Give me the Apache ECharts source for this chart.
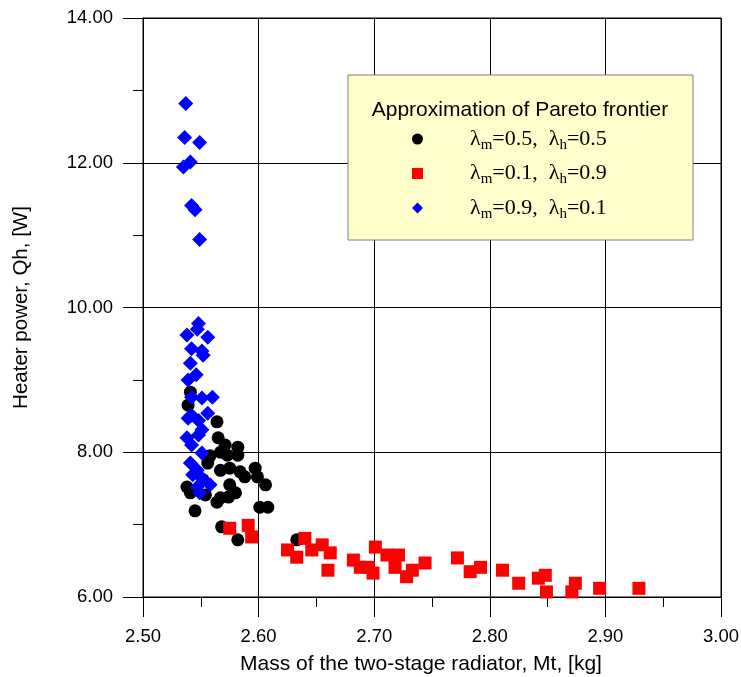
<!DOCTYPE html>
<html>
<head>
<meta charset="utf-8">
<script src="https://cdn.jsdelivr.net/npm/echarts@6/dist/echarts.min.js"></script>
<style>
    html, body { margin: 0; padding: 0; background: #fff; }
    #main { width: 741px; height: 677px; }
</style>
</head>
<body>
<div id="main"></div>
<script>
// tick labels
var xTicks = ['2.50', '2.60', '2.70', '2.80', '2.90', '3.00'];
var yTicks = ['6.00', '8.00', '10.00', '12.00', '14.00'];

// series names (rich text, subscripts m / h)
var seriesNames = ['l05', 'l01', 'l09'];
var seriesLabels = [['0.5', '0.5'], ['0.1', '0.9'], ['0.9', '0.1']];

// lambda_m=0.5, lambda_h=0.5  (mass, heater power)
var pointsBalanced = [
    [2.541, 8.83], [2.539, 8.65], [2.564, 8.42], [2.565, 8.20], [2.571, 8.10], [2.582, 8.07],
    [2.573, 7.96], [2.582, 7.96], [2.567, 8.00], [2.556, 7.85], [2.567, 7.75], [2.575, 7.78],
    [2.584, 7.73], [2.588, 7.66], [2.597, 7.78], [2.599, 7.66], [2.606, 7.55], [2.575, 7.55],
    [2.538, 7.52], [2.541, 7.44], [2.554, 7.41], [2.580, 7.44], [2.567, 7.37], [2.564, 7.31],
    [2.574, 7.38], [2.601, 7.24], [2.608, 7.24], [2.545, 7.19], [2.568, 6.97], [2.582, 6.79],
    [2.633, 6.79], [2.552, 7.62], [2.558, 7.95]
];
// lambda_m=0.1, lambda_h=0.9
var pointsPower = [
    [2.575, 6.95], [2.591, 6.99], [2.594, 6.83], [2.625, 6.65], [2.633, 6.55], [2.640, 6.81],
    [2.646, 6.65], [2.655, 6.72], [2.662, 6.61], [2.660, 6.37], [2.682, 6.51], [2.688, 6.41],
    [2.701, 6.69], [2.695, 6.41], [2.699, 6.33], [2.711, 6.58], [2.721, 6.58], [2.718, 6.41],
    [2.728, 6.28], [2.733, 6.37], [2.744, 6.47], [2.772, 6.54], [2.783, 6.35], [2.792, 6.41],
    [2.811, 6.37], [2.825, 6.19], [2.842, 6.26], [2.848, 6.30], [2.849, 6.07], [2.871, 6.07],
    [2.874, 6.19], [2.895, 6.12], [2.929, 6.12]
];
// lambda_m=0.9, lambda_h=0.1
var pointsMass = [
    [2.537, 12.82], [2.536, 12.35], [2.549, 12.28], [2.541, 12.01], [2.535, 11.94], [2.542, 11.41],
    [2.545, 11.35], [2.549, 10.94], [2.548, 9.78], [2.547, 9.70], [2.538, 9.62], [2.556, 9.59],
    [2.542, 9.43], [2.551, 9.40], [2.552, 9.34], [2.541, 9.23], [2.546, 9.07], [2.539, 9.00],
    [2.542, 8.76], [2.551, 8.75], [2.560, 8.76], [2.556, 8.54], [2.542, 8.51], [2.539, 8.47],
    [2.548, 8.44], [2.551, 8.31], [2.548, 8.24], [2.538, 8.20], [2.542, 8.10], [2.551, 7.99],
    [2.541, 7.85], [2.547, 7.75], [2.543, 7.69], [2.551, 7.64], [2.558, 7.55], [2.547, 7.52],
    [2.549, 7.44]
];

var sans = 'Liberation Sans, Arial, sans-serif';
var serif = 'Liberation Serif, Times New Roman, serif';

var chart = echarts.init(document.getElementById('main'));

var option = {
    backgroundColor: '#fff',
    animation: false,
    grid: {
        left: 143, right: 20, top: 18, bottom: 80,
        outerBoundsMode: 'none',
        show: true, borderColor: '#000', borderWidth: 1
    },
    xAxis: {
        type: 'value',
        min: 2.5, max: 3.0, interval: 0.1,
        name: 'Mass of the two-stage radiator, Mt, [kg]',
        nameLocation: 'middle', nameGap: 57,
        nameTextStyle: {fontFamily: sans, fontSize: 21, color: '#000', padding: [0, 22, 0, 0]},
        axisLine: {lineStyle: {color: '#000', width: 1}},
        axisTick: {show: true, length: 20, lineStyle: {color: '#000'}},
        minorTick: {show: true, splitNumber: 2, length: 10, lineStyle: {color: '#000'}},
        splitLine: {show: true, lineStyle: {color: '#000', width: 1}},
        axisLabel: {
            margin: 30, fontFamily: sans, fontSize: 18.5, color: '#000',
            formatter: function (v) {
                return xTicks[Math.round((v - 2.5) / 0.1)];
            }
        }
    },
    yAxis: {
        type: 'value',
        min: 6, max: 14, interval: 2,
        name: 'Heater power, Qh, [W]',
        nameLocation: 'middle', nameGap: 111,
        nameTextStyle: {fontFamily: sans, fontSize: 20.5, color: '#000'},
        axisLine: {show: true, lineStyle: {color: '#000', width: 1}},
        axisTick: {show: true, length: 20, lineStyle: {color: '#000'}},
        minorTick: {show: true, splitNumber: 2, length: 10, lineStyle: {color: '#000'}},
        splitLine: {show: true, lineStyle: {color: '#000', width: 1}},
        axisLabel: {
            margin: 30, fontFamily: sans, fontSize: 18.5, color: '#000',
            formatter: function (v) {
                return yTicks[Math.round((v - 6) / 2)];
            }
        }
    },
    graphic: [
        {
            type: 'rect', z: 3,
            shape: {x: 348, y: 75, width: 345, height: 165},
            style: {fill: '#FFFFCC', stroke: '#7f7f7f', lineWidth: 1}
        },
        {
            type: 'text', z: 5, x: 520, y: 110,
            style: {
                text: 'Approximation of Pareto frontier',
                font: '21px ' + sans, fill: '#000',
                textAlign: 'center', textVerticalAlign: 'middle'
            }
        }
    ],
    legend: {
        orient: 'vertical',
        left: 407, top: 123,
        itemWidth: 11, itemHeight: 11,
        itemGap: 10,
        z: 6,
        data: [
            {name: seriesNames[0], icon: 'circle'},
            {name: seriesNames[1], icon: 'rect'},
            {name: seriesNames[2], icon: 'diamond'}
        ],
        formatter: function (name) {
            var l = seriesLabels[seriesNames.indexOf(name)];
            return '{g| }{t|λ}{s|m}{t|=' + l[0] + ',  λ}{s|h}{t|=' + l[1] + '}';
        },
        textStyle: {
            rich: {
                g: {width: 42},
                t: {fontFamily: serif, fontSize: 22, color: '#000', lineHeight: 24},
                s: {fontFamily: serif, fontSize: 15, color: '#000', padding: [12, 0, 0, 0]}
            }
        }
    },
    series: [
        {
            name: seriesNames[0], type: 'scatter', symbol: 'circle', symbolSize: 13,
            itemStyle: {color: '#000', opacity: 1}, data: pointsBalanced
        },
        {
            name: seriesNames[1], type: 'scatter', symbol: 'rect', symbolSize: 13,
            itemStyle: {color: '#FF0000', opacity: 1}, data: pointsPower
        },
        {
            name: seriesNames[2], type: 'scatter', symbol: 'diamond', symbolSize: 15,
            itemStyle: {color: '#0000FF', opacity: 1}, data: pointsMass
        }
    ]
};

chart.setOption(option);
</script>
</body>
</html>
